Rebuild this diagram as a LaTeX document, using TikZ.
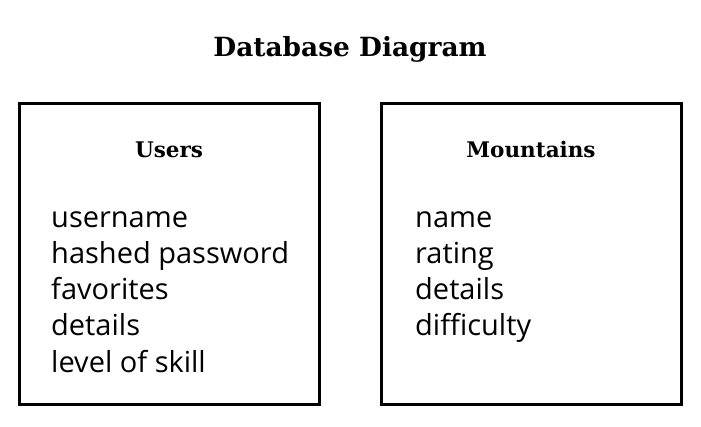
\documentclass[tikz,border=0pt]{standalone}
\usepackage{fontspec}
\setmainfont{Open Sans}
\newfontfamily\slab{DejaVu Serif}
\begin{document}
\begin{tikzpicture}[x=1pt,y=-1pt,
  tbl/.style={draw=black,line width=3pt,minimum width=300pt,minimum height=300pt,inner sep=0pt},
  ttl/.style={font=\slab\bfseries\fontsize{26.4}{30}\selectfont,anchor=base,inner sep=0pt},
  hdr/.style={font=\slab\bfseries\fontsize{21.5}{25}\selectfont,anchor=base,inner sep=0pt},
  body/.style={font=\fontsize{29}{36}\selectfont,anchor=base west,inner sep=0pt}]
\useasboundingbox (0,0) rectangle (701,427);
\node[ttl] (title) at (350,57) {Database Diagram};
\node[tbl] (users) at (169,254) {};
\node[tbl] (mtn) at (531,254) {};
\node[hdr] (uh) at (169,158) {Users};
\node[hdr] (mh) at (531,158) {Mountains};
\node[body] (u1) at (51,228) {username};
\node[body] (u2) at (51,264) {hashed password};
\node[body] (u3) at (51,300) {favorites};
\node[body] (u4) at (51,336) {details};
\node[body] (u5) at (51,372) {level of skill};
\node[body] (m1) at (415,228) {name};
\node[body] (m2) at (415,264) {rating};
\node[body] (m3) at (415,300) {details};
\node[body] (m4) at (415,336) {difficulty};
\end{tikzpicture}
\end{document}
